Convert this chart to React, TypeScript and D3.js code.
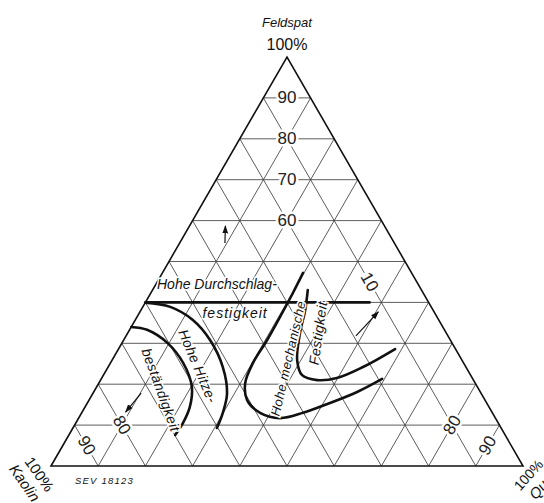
import * as d3 from "d3"
import { useRef, useEffect } from 'react'

// ternary values are [Feldspat, Quarz] in percent, Kaolin is the rest
const gridSteps = [10, 20, 30, 40, 50, 60, 70, 80, 90]
const feldspatLabels = [90, 80, 70, 60]
const kaolinLabels = [90, 80, 10]
const quarzLabels = [90, 80]

const durchschlag: [number, number][] = [[40, 0], [40, 47.5]]
const hitzeOuter: [number, number][] = [
  [39.9, 0], [38.9, 5.8], [35.7, 12.2], [30.8, 18.3], [24.2, 24.3],
  [17.8, 28.4], [13.0, 29.9], [9.3, 30.5],
]
const hitzeInner: [number, number][] = [
  [34.0, 0], [33.3, 3.7], [30.1, 9.6], [25.2, 15.4], [19.3, 20.2],
  [14.4, 22.2], [10.5, 22.7], [7.6, 22.5],
]
const mechOuter: [number, number][] = [
  [47.2, 29.8], [42.3, 30.1], [36.4, 30.3], [30.8, 30.4], [25.2, 30.2],
  [20.3, 31.0], [16.1, 33.5], [13.0, 37.8], [11.7, 42.7], [13.0, 46.9],
  [15.4, 51.4], [18.1, 55.8], [21.3, 59.5],
]
const mechInner: [number, number][] = [
  [43.0, 32.9], [38.1, 34.8], [32.5, 36.5], [25.9, 39.2], [22.2, 42.1],
  [21.0, 45.9], [21.5, 49.8], [24.2, 54.0], [28.6, 58.6],
]
const arrows: [number, number][][] = [
  [[54.5, 9.6], [58.7, 7.6]],
  [[17.8, 10.2], [13.2, 9.2]],
  [[31.8, 48.7], [37.7, 50.5]],
]
// annotation texts: [text, Feldspat, Quarz, rotation, size]
const regionTexts: [string, number, number, number, number][] = [
  ["Hohe Hitze-", 24.4, 18.9, 67, 14],
  ["beständigkeit", 18.6, 14.0, 70, 14],
  ["Hohe mechanische", 26.3, 37.1, -77, 13],
  ["Festigkeit", 32.5, 40.3, -82, 14],
]

export default function App() {
  const width = 544
  const height = 503
  const left = 51, right = 523, top = 57, base = 466

  const xScale = d3.scaleLinear().domain([0, 100]).range([left, right])
  const yScale = d3.scaleLinear().domain([0, 100]).range([base, top])
  const pt = (f: number, q: number): [number, number] => [xScale(q + f / 2), yScale(f)]

  const curve = d3.line<[number, number]>()
    .x(d => pt(d[0], d[1])[0])
    .y(d => pt(d[0], d[1])[1])
    .curve(d3.curveCatmullRom.alpha(0.5))
  const straight = d3.line<[number, number]>()
    .x(d => pt(d[0], d[1])[0])
    .y(d => pt(d[0], d[1])[1])

  const gridRef = useRef<SVGGElement>(null)
  useEffect(() => {
    const g = d3.select(gridRef.current)
    g.selectAll("*").remove()
    const segs: [number, number][][] = []
    gridSteps.forEach(v => {
      segs.push([[v, 0], [v, 100 - v]])           // Feldspat const
      segs.push([[0, v], [100 - v, v]])           // Quarz const
      segs.push([[0, 100 - v], [100 - v, 0]])     // Kaolin const
    })
    g.selectAll("path").data(segs).join("path")
      .attr("d", d => straight(d))
      .attr("stroke", "#333")
      .attr("stroke-width", 0.8)
      .attr("fill", "none")
  }, [])

  const tri = [pt(0, 0), pt(100, 0), pt(0, 100)]
  const font = "'Liberation Sans', Arial, sans-serif"
  const halo = { paintOrder: "stroke" as const, stroke: "#fff", strokeWidth: 5 }

  return (
    <svg width={width} height={height} style={{ position: "absolute", left: 0, top: 0, background: "#fff" }}
      fontFamily={font}>
      <defs>
        <marker id="ah" viewBox="0 0 10 10" refX="9" refY="5" markerWidth="7" markerHeight="7" orient="auto">
          <path d="M0,1.5 L10,5 L0,8.5 Z" fill="#111" />
        </marker>
      </defs>
      <g ref={gridRef} />
      <polygon points={tri.map(p => p.join(",")).join(" ")} fill="none" stroke="#111" strokeWidth={1.6} />

      {/* grid labels */}
      <g fontSize={17} fill="#222" textAnchor="middle" dominantBaseline="central">
        {feldspatLabels.map(f => {
          const [x, y] = pt(f, (100 - f) / 2)
          return <text key={"f" + f} x={x} y={y} style={halo}>{f}</text>
        })}
        {kaolinLabels.map(k => {
          const [x, y] = pt((100 - k) / 2, (100 - k) / 2)
          return <text key={"k" + k} x={0} y={0} transform={`translate(${x},${y}) rotate(60)`} style={halo}>{k}</text>
        })}
        {quarzLabels.map(q => {
          const [x, y] = pt((100 - q) / 2, q)
          return <text key={"q" + q} x={0} y={0} transform={`translate(${x},${y}) rotate(-60)`} style={halo}>{q}</text>
        })}
      </g>

      {/* region boundaries */}
      <g fill="none" stroke="#111" strokeWidth={2.6} strokeLinecap="round">
        <path d={straight(durchschlag) ?? ""} />
        <path d={curve(hitzeOuter) ?? ""} />
        <path d={curve(hitzeInner) ?? ""} />
        <path d={curve(mechOuter) ?? ""} />
        <path d={curve(mechInner) ?? ""} />
      </g>
      <g stroke="#111" strokeWidth={1.2}>
        {arrows.map((a, i) => (
          <path key={i} d={straight(a) ?? ""} markerEnd="url(#ah)" />
        ))}
      </g>

      {/* region texts */}
      <g fontStyle="italic" fill="#111" textAnchor="middle">
        <text x={pt(43.3, 13.5)[0]} y={pt(43.3, 13.5)[1]} fontSize={14} style={{ ...halo, strokeWidth: 3 }}>Hohe Durchschlag-</text>
        <text x={pt(36.2, 20.9)[0]} y={pt(36.2, 20.9)[1]} fontSize={14} letterSpacing={1} style={{ ...halo, strokeWidth: 3 }}>festigkeit</text>
        {regionTexts.map(([t, f, q, r, s]) => {
          const [x, y] = pt(f, q)
          return (
            <text key={t} x={0} y={0} fontSize={s} dominantBaseline="central" letterSpacing={0.4}
              transform={`translate(${x},${y}) rotate(${r})`}
              style={{ paintOrder: "stroke", stroke: "#fff", strokeWidth: 3 }}>{t}</text>
          )
        })}
      </g>

      {/* apex and corner labels */}
      <text x={pt(100, 0)[0]} y={top - 30} textAnchor="middle" fontSize={13} fontStyle="italic" fill="#111">Feldspat</text>
      <text x={pt(100, 0)[0]} y={top - 7} textAnchor="middle" fontSize={16} fill="#111">100%</text>
      <g transform={`translate(${left},${base}) rotate(55)`} fill="#111">
        <text x={0} y={14} textAnchor="middle" fontSize={15} dominantBaseline="central">100%</text>
        <text x={-22} y={31} fontSize={15} fontStyle="italic" dominantBaseline="central">Kaolin</text>
      </g>
      <g transform={`translate(${right},${base}) rotate(-48)`} fill="#111">
        <text x={-3} y={10} textAnchor="middle" fontSize={14} dominantBaseline="central">100%</text>
        <text x={-17} y={27} fontSize={15} fontStyle="italic" dominantBaseline="central">Quarz</text>
      </g>
      <text x={left + 24} y={base + 18} fontSize={9.5} fontStyle="italic" letterSpacing={1.2} fill="#111">SEV 18123</text>
    </svg>
  )
}
